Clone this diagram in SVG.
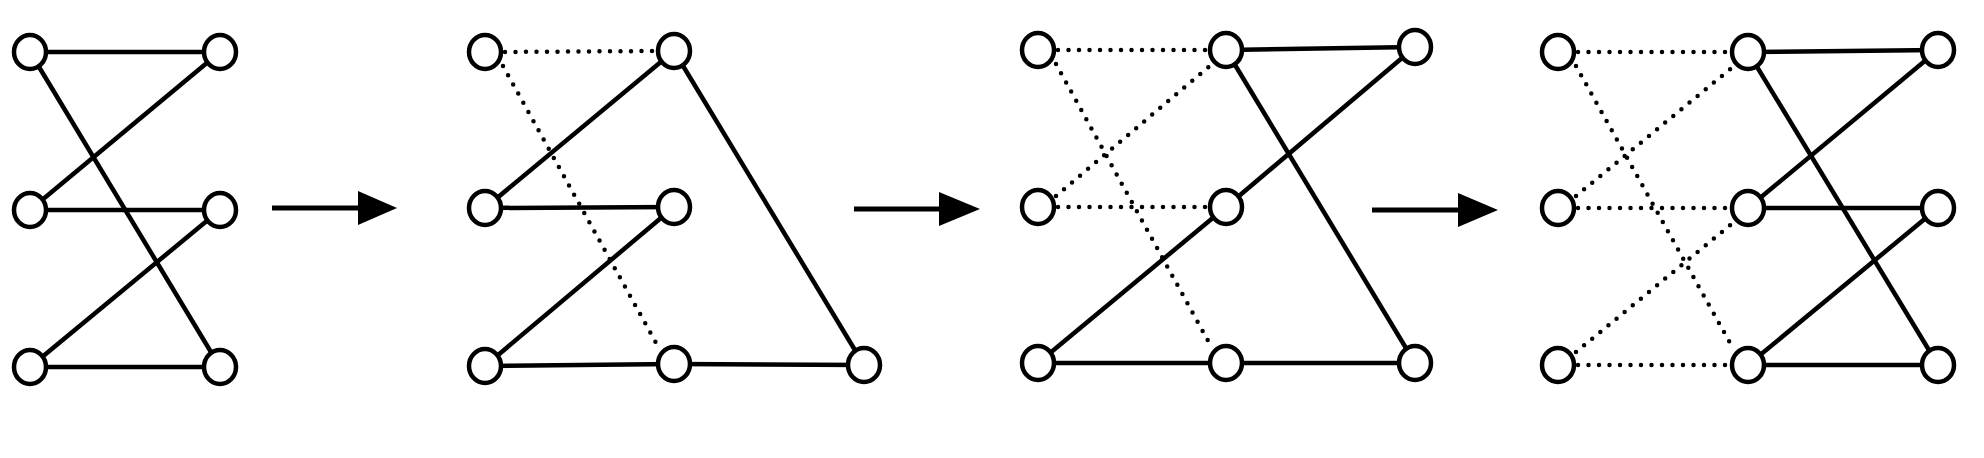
<svg xmlns="http://www.w3.org/2000/svg" width="1984" height="458" viewBox="0 0 1984 458">
<style>
.s{stroke:#000;stroke-width:4.5;fill:none}
.d{stroke:#000;stroke-width:4.5;fill:none;stroke-dasharray:0 10.5;stroke-linecap:round}
.n{fill:#fff;stroke:#000;stroke-width:4.5}
.a{stroke:#000;stroke-width:5;fill:none}
</style>
<rect width="1984" height="458" fill="#fff"/>
<g id="connectors">
<line class="s" x1="30" y1="52" x2="220" y2="52"/>
<line class="s" x1="30" y1="52" x2="220" y2="367"/>
<line class="s" x1="30" y1="210" x2="220" y2="52"/>
<line class="s" x1="30" y1="210" x2="220" y2="210"/>
<line class="s" x1="30" y1="367" x2="220" y2="210"/>
<line class="s" x1="30" y1="367" x2="220" y2="367"/>
<line class="a" x1="272" y1="208" x2="362" y2="208"/><polygon points="358,191 397,208 358,225"/>
<line class="d" x1="505" y1="52" x2="656" y2="51"/>
<line class="d" x1="503" y1="66" x2="660" y2="350"/>
<line class="s" x1="485" y1="208" x2="674" y2="51"/>
<line class="s" x1="485" y1="208" x2="674" y2="207"/>
<line class="s" x1="485" y1="366" x2="674" y2="207"/>
<line class="s" x1="485" y1="366" x2="674" y2="364"/>
<line class="s" x1="674" y1="51" x2="864" y2="365"/>
<line class="s" x1="674" y1="364" x2="864" y2="365"/>
<line class="a" x1="854" y1="209" x2="944" y2="209"/><polygon points="939,192 980,209 939,226"/>
<line class="d" x1="1058" y1="50" x2="1208" y2="50"/>
<line class="d" x1="1056" y1="64" x2="1212" y2="348"/>
<line class="d" x1="1056" y1="196" x2="1212" y2="64"/>
<line class="d" x1="1058" y1="207" x2="1208" y2="207"/>
<line class="s" x1="1038" y1="363" x2="1226" y2="207"/>
<line class="s" x1="1038" y1="363" x2="1226" y2="363"/>
<line class="s" x1="1226" y1="50" x2="1415" y2="47"/>
<line class="s" x1="1226" y1="50" x2="1415" y2="363"/>
<line class="s" x1="1226" y1="207" x2="1415" y2="47"/>
<line class="s" x1="1226" y1="363" x2="1415" y2="363"/>
<line class="a" x1="1372" y1="210" x2="1462" y2="210"/><polygon points="1458,193 1498,210 1458,227"/>
<line class="d" x1="1578" y1="52" x2="1730" y2="52"/>
<line class="d" x1="1576" y1="66" x2="1734" y2="350"/>
<line class="d" x1="1576" y1="196" x2="1734" y2="66"/>
<line class="d" x1="1578" y1="208" x2="1730" y2="208"/>
<line class="d" x1="1576" y1="352" x2="1734" y2="222"/>
<line class="d" x1="1578" y1="365" x2="1730" y2="365"/>
<line class="s" x1="1748" y1="52" x2="1938" y2="50"/>
<line class="s" x1="1748" y1="52" x2="1938" y2="365"/>
<line class="s" x1="1748" y1="208" x2="1938" y2="50"/>
<line class="s" x1="1748" y1="208" x2="1938" y2="208"/>
<line class="s" x1="1748" y1="365" x2="1938" y2="208"/>
<line class="s" x1="1748" y1="365" x2="1938" y2="365"/>
</g>
<g id="p1-l0"><ellipse class="n" cx="30" cy="52" rx="16" ry="17"/></g>
<g id="p1-l1"><ellipse class="n" cx="30" cy="210" rx="16" ry="17"/></g>
<g id="p1-l2"><ellipse class="n" cx="30" cy="367" rx="16" ry="17"/></g>
<g id="p1-r0"><ellipse class="n" cx="220" cy="52" rx="16" ry="17"/></g>
<g id="p1-r1"><ellipse class="n" cx="220" cy="210" rx="16" ry="17"/></g>
<g id="p1-r2"><ellipse class="n" cx="220" cy="367" rx="16" ry="17"/></g>
<g id="p2-l0"><ellipse class="n" cx="485" cy="52" rx="16" ry="17"/></g>
<g id="p2-l1"><ellipse class="n" cx="485" cy="208" rx="16" ry="17"/></g>
<g id="p2-l2"><ellipse class="n" cx="485" cy="366" rx="16" ry="17"/></g>
<g id="p2-m0"><ellipse class="n" cx="674" cy="51" rx="16" ry="17"/></g>
<g id="p2-m1"><ellipse class="n" cx="674" cy="207" rx="16" ry="17"/></g>
<g id="p2-m2"><ellipse class="n" cx="674" cy="364" rx="16" ry="17"/></g>
<g id="p2-r2"><ellipse class="n" cx="864" cy="365" rx="16" ry="17"/></g>
<g id="p3-l0"><ellipse class="n" cx="1038" cy="50" rx="16" ry="17"/></g>
<g id="p3-l1"><ellipse class="n" cx="1038" cy="207" rx="16" ry="17"/></g>
<g id="p3-l2"><ellipse class="n" cx="1038" cy="363" rx="16" ry="17"/></g>
<g id="p3-m0"><ellipse class="n" cx="1226" cy="50" rx="16" ry="17"/></g>
<g id="p3-m1"><ellipse class="n" cx="1226" cy="207" rx="16" ry="17"/></g>
<g id="p3-m2"><ellipse class="n" cx="1226" cy="363" rx="16" ry="17"/></g>
<g id="p3-r0"><ellipse class="n" cx="1415" cy="47" rx="16" ry="17"/></g>
<g id="p3-r2"><ellipse class="n" cx="1415" cy="363" rx="16" ry="17"/></g>
<g id="p4-l0"><ellipse class="n" cx="1558" cy="52" rx="16" ry="17"/></g>
<g id="p4-l1"><ellipse class="n" cx="1558" cy="208" rx="16" ry="17"/></g>
<g id="p4-l2"><ellipse class="n" cx="1558" cy="365" rx="16" ry="17"/></g>
<g id="p4-m0"><ellipse class="n" cx="1748" cy="52" rx="16" ry="17"/></g>
<g id="p4-m1"><ellipse class="n" cx="1748" cy="208" rx="16" ry="17"/></g>
<g id="p4-m2"><ellipse class="n" cx="1748" cy="365" rx="16" ry="17"/></g>
<g id="p4-r0"><ellipse class="n" cx="1938" cy="50" rx="16" ry="17"/></g>
<g id="p4-r1"><ellipse class="n" cx="1938" cy="208" rx="16" ry="17"/></g>
<g id="p4-r2"><ellipse class="n" cx="1938" cy="365" rx="16" ry="17"/></g>
</svg>
